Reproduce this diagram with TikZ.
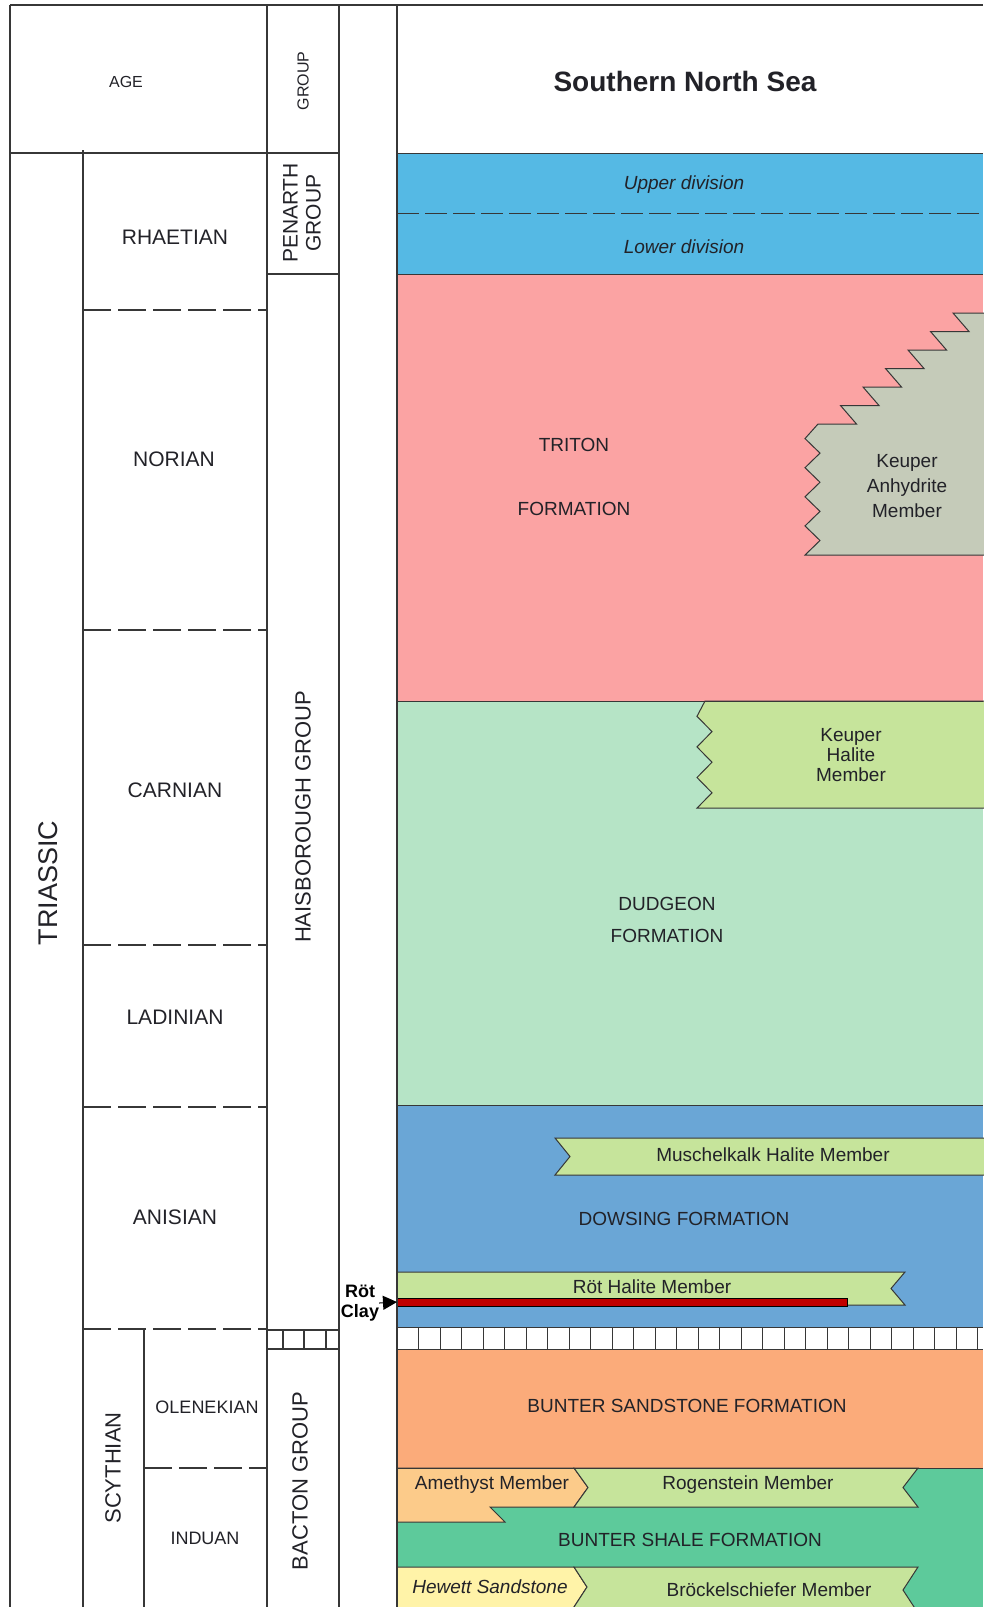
\documentclass[tikz,border=0pt]{standalone}
\usepackage{fontspec}
\setmainfont{Liberation Sans}
\usepackage{tikz}
\usetikzlibrary{arrows.meta,positioning,calc}
\definecolor{linegray}{RGB}{55,55,55}
\definecolor{inkgray}{RGB}{34,34,40}
\definecolor{penarth}{RGB}{85,185,228}
\definecolor{triton}{RGB}{251,163,163}
\definecolor{anhydrite}{RGB}{197,203,185}
\definecolor{dudgeon}{RGB}{182,228,198}
\definecolor{member}{RGB}{198,228,155}
\definecolor{dowsing}{RGB}{106,166,214}
\definecolor{buntersst}{RGB}{251,171,122}
\definecolor{amethyst}{RGB}{252,203,138}
\definecolor{buntersh}{RGB}{93,202,155}
\definecolor{hewett}{RGB}{255,243,168}
\definecolor{rotred}{RGB}{192,0,0}
\tikzstyle{frame}=[draw=linegray,line width=1.2pt]
\tikzstyle{stagebreak}=[draw=linegray,line width=1.2pt,dash pattern=on 28pt off 7pt]
\tikzstyle{bed}=[draw=linegray,line width=1pt]
\tikzstyle{stage}=[inner sep=0pt,text=inkgray,font=\fontsize{21}{23}\selectfont,align=center]
\tikzstyle{substage}=[inner sep=0pt,text=inkgray,font=\fontsize{18}{20}\selectfont]
\tikzstyle{unit}=[inner sep=0pt,text=inkgray,font=\fontsize{19}{21}\selectfont,align=center]

\begin{document}
\begin{tikzpicture}[x=1pt,y=-1pt]
  \useasboundingbox (0,0) rectangle (983,1607);
  \fill[penarth] (397,153) rectangle (983,274);
  \fill[triton] (397,274) rectangle (983,701);
  \fill[dudgeon] (397,701) rectangle (983,1105);
  \fill[dowsing] (397,1105) rectangle (983,1327);
  \fill[white] (397,1327) rectangle (983,1349);
  \fill[buntersst] (397,1349) rectangle (983,1468);
  \fill[buntersh] (397,1468) rectangle (983,1607);

  \filldraw[bed,fill=anhydrite] (990,313) -- (953,313)
    \foreach \k in {0,...,5} { -- ({953-22.5*\k+16},{313+18.5*(\k+1)}) -- ({953-22.5*(\k+1)},{313+18.5*(\k+1)}) }
    \foreach \j in {1,...,9} { -- ({820-15*mod(\j,2)},{424+14.56*\j}) }
    -- (990,555);
  \filldraw[bed,fill=member] (990,701) -- (705,701)
    \foreach \j in {1,...,7} { -- ({712-15*mod(\j,2)},{701+15.3*\j}) }
    -- (990,808);
  \filldraw[bed,fill=member] (990,1138) -- (555,1138) -- (570,1156.5) -- (555,1175) -- (990,1175);
  \filldraw[bed,fill=member] (397,1272) -- (905,1272) -- (891,1288.5) -- (905,1305) -- (397,1305);
  \filldraw[draw=black,fill=rotred,line width=0.8pt] (397,1298) rectangle (847,1306);
  \coordinate (rotclaytip) at (397,1302);
  \filldraw[bed,fill=amethyst] (397,1468) -- (574,1468) -- (588,1487.5) -- (574,1507) -- (490,1507) -- (505,1522) -- (397,1522);
  \filldraw[bed,fill=member] (574,1468) -- (918,1468) -- (903,1487.5) -- (918,1507) -- (574,1507) -- (588,1487.5) -- cycle;
  \filldraw[bed,fill=hewett] (397,1567) -- (574,1567) -- (587,1587) -- (574,1607) -- (574,1615) -- (397,1615);
  \filldraw[bed,fill=member] (574,1567) -- (918,1567) -- (903,1590) -- (918,1613) -- (574,1613) -- (574,1607) -- (587,1587) -- cycle;

  \foreach \y in {153,274,701,1105,1327,1349,1468}
    \draw[bed] (397,\y) -- (983,\y);
  \draw[bed,dash pattern=on 22pt off 6pt] (397,213) -- (983,213);
  \foreach \i in {1,...,27}
    \draw[bed] ({397+21.5*\i},1327) -- ({397+21.5*\i},1349);

  \draw[frame] (10,5) -- (983,5);
  \draw[frame] (10,5) -- (10,1607);
  \draw[frame] (267,5) -- (267,1607);
  \draw[frame] (339,5) -- (339,1607);
  \draw[frame] (397,5) -- (397,1607);
  \draw[frame] (10,153) -- (339,153);
  \draw[frame] (83,150) -- (83,1607);
  \draw[frame] (144,1329) -- (144,1607);
  \draw[frame] (267,274) -- (339,274);
  \draw[frame] (267,1330) -- (339,1330);
  \draw[frame] (267,1349) -- (339,1349);
  \foreach \x in {283,304,326}
    \draw[frame] (\x,1330) -- (\x,1349);
  \foreach \y in {310,630,945,1107,1329}
    \draw[stagebreak] (83,\y) -- (267,\y);
  \draw[stagebreak] (144,1468) -- (267,1468);

  \node[substage,font=\fontsize{16}{18}\selectfont] (age) at (126,82) {AGE};
  \node[substage,font=\fontsize{16}{18}\selectfont,rotate=90] (grouphead) at (303,81) {GROUP};
  \node[inner sep=0pt,text=inkgray,font=\bfseries\fontsize{28}{30}\selectfont] (title) at (685,81) {Southern North Sea};

  \node[stage] (rhaetian) at (175,237) {RHAETIAN};
  \node[stage] (norian) at (174,459) {NORIAN};
  \node[stage] (carnian) at (175,790) {CARNIAN};
  \node[stage] (ladinian) at (175,1017) {LADINIAN};
  \node[stage] (anisian) at (175,1217) {ANISIAN};
  \node[substage] (olenekian) at (207,1407) {OLENEKIAN};
  \node[substage] (induan) at (205,1538) {INDUAN};
  \node[stage,font=\fontsize{27}{29}\selectfont,rotate=90] (triassic) at (48,883) {TRIASSIC};
  \node[stage,font=\fontsize{22}{24}\selectfont,rotate=90] (scythian) at (113,1468) {SCYTHIAN};
  \node[stage,rotate=90] (penarth) at (302,213) {PENARTH\\GROUP};
  \node[stage,font=\fontsize{22}{24}\selectfont,rotate=90] (haisborough) at (303,817) {HAISBOROUGH GROUP};
  \node[stage,font=\fontsize{22}{24}\selectfont,rotate=90] (bacton) at (300,1481) {BACTON GROUP};

  \node[unit,font=\itshape\fontsize{19}{21}\selectfont] (upperdiv) at (684,185) {Upper division};
  \node[unit,font=\itshape\fontsize{19}{21}\selectfont] (lowerdiv) at (684,247) {Lower division};
  \node[unit] (triton) at (574,445) {TRITON};
  \node[unit] (tritonfm) at (574,509) {FORMATION};
  \node[unit,font=\fontsize{19}{25}\selectfont] (anhydrite) at (907,486) {Keuper\\Anhydrite\\Member};
  \node[unit,font=\fontsize{19}{20}\selectfont] (keuperhalite) at (851,755) {Keuper\\Halite\\Member};
  \node[unit,font=\fontsize{19}{32}\selectfont] (dudgeon) at (667,920) {DUDGEON\\FORMATION};
  \node[unit] (muschelkalk) at (773,1155) {Muschelkalk Halite Member};
  \node[unit] (dowsing) at (684,1219) {DOWSING FORMATION};
  \node[unit] (rothalite) at (652,1287) {Röt Halite Member};
  \node[inner sep=0pt,align=center,font=\bfseries\fontsize{18}{20}\selectfont] (rotclay) at (360,1303) {Röt\\Clay};
  \draw[-{Triangle[length=14pt,width=14pt]},line width=1pt] (rotclay.east) -- (rotclaytip);
  \node[unit] (buntersst) at (687,1406) {BUNTER SANDSTONE FORMATION};
  \node[unit] (amethyst) at (492,1485) {Amethyst Member};
  \node[unit] (rogenstein) at (748,1485) {Rogenstein Member};
  \node[unit] (buntershale) at (690,1540) {BUNTER SHALE FORMATION};
  \node[unit,font=\itshape\fontsize{19}{21}\selectfont] (hewett) at (490,1587) {Hewett Sandstone};
  \node[unit] (brockel) at (769,1590) {Bröckelschiefer Member};
\end{tikzpicture}
\end{document}
